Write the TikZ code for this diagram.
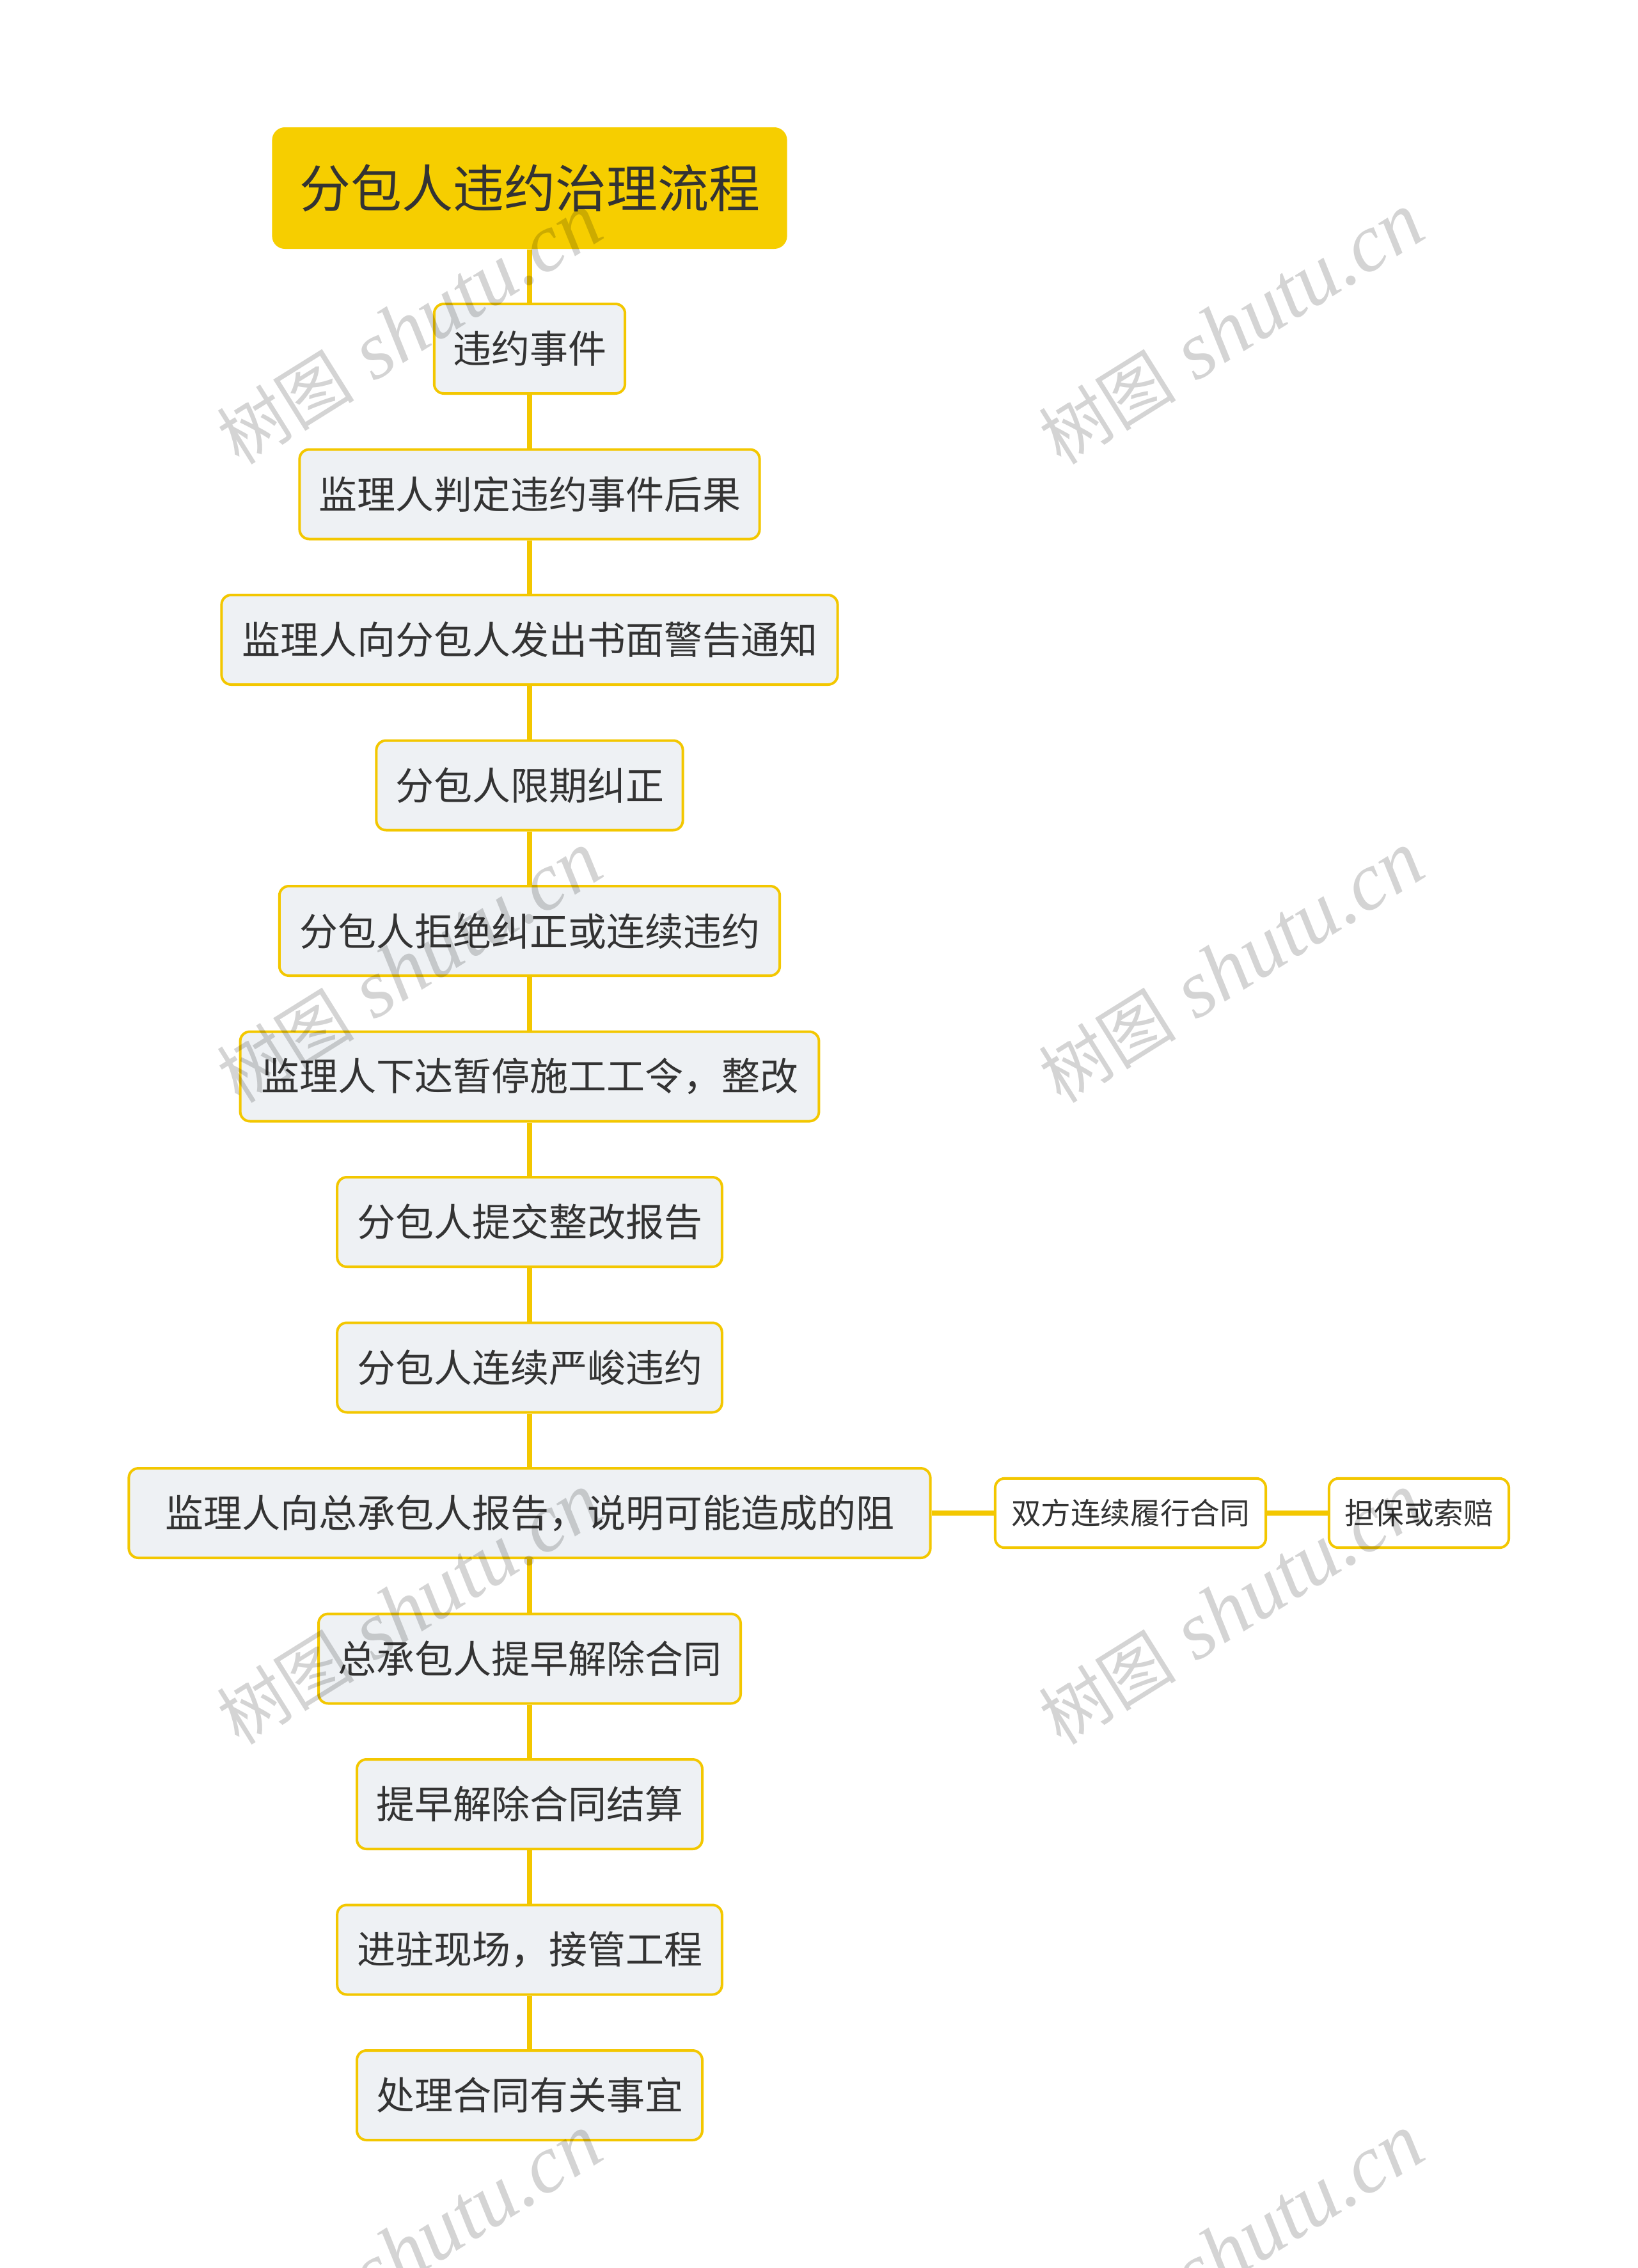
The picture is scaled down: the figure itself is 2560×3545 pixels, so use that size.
\documentclass[tikz,border=0pt]{standalone}
\usepackage{fontspec}
\setmainfont{Liberation Serif}
\newfontfamily\cjk{Noto Sans CJK SC}
\definecolor{ylw}{HTML}{F3C700}
\definecolor{rootfill}{HTML}{F6CE00}
\definecolor{boxfill}{HTML}{EEF1F4}
\definecolor{txt}{HTML}{333333}
\begin{document}
\begin{tikzpicture}[x=0.25pt,y=-0.25pt,
  box/.style={draw=ylw, line width=1pt, fill=boxfill, rounded corners=3.75pt,
    minimum height=35pt, inner xsep=0pt, inner ysep=0pt, align=center, text=txt,
    font=\cjk\fontsize{15}{18}\selectfont},
  rootbox/.style={fill=rootfill, rounded corners=5pt, minimum width=201.3pt,
    minimum height=47.5pt, inner sep=0pt, text=txt,
    font=\cjk\fontsize{20}{24}\selectfont},
  sidebox/.style={box, fill=white, minimum height=27.1pt,
    font=\cjk\fontsize{11.65}{14}\selectfont},
  link/.style={draw=ylw, line width=2.1pt},
  wm/.style={text=black, text opacity=0.17, rotate=32,
    font=\fontsize{32}{36}\selectfont}
]
\useasboundingbox[fill=white] (0,0) rectangle (2560,3545);

\node[rootbox] (root) at (828,294) {分包人违约治理流程};
\node[box, minimum width=74.6pt]  (n1)  at (828,545)   {违约事件};
\node[box, minimum width=179.8pt] (n2)  at (828,772.5) {监理人判定违约事件后果};
\node[box, minimum width=240.8pt] (n3)  at (828,1000)  {监理人向分包人发出书面警告通知};
\node[box, minimum width=119.8pt] (n4)  at (828,1227.5){分包人限期纠正};
\node[box, minimum width=195.6pt] (n5)  at (828,1455)  {分包人拒绝纠正或连续违约};
\node[box, minimum width=226.2pt] (n6)  at (828,1682.5){监理人下达暂停施工工令，整改};
\node[box, minimum width=150.4pt] (n7)  at (828,1910)  {分包人提交整改报告};
\node[box, minimum width=150.4pt] (n8)  at (828,2137.5){分包人连续严峻违约};
\node[box, minimum width=313.3pt] (n9)  at (828,2365)  {监理人向总承包人报告，说明可能造成的阻};
\node[box, minimum width=165pt]   (n10) at (828,2592.5){总承包人提早解除合同};
\node[box, minimum width=135pt]   (n11) at (828,2820)  {提早解除合同结算};
\node[box, minimum width=150.4pt] (n12) at (828,3047.5){进驻现场，接管工程};
\node[box, minimum width=135pt]   (n13) at (828,3275)  {处理合同有关事宜};

\node[sidebox, minimum width=105.8pt] (s1) at (1767.5,2365) {双方连续履行合同};
\node[sidebox, minimum width=70.3pt]  (s2) at (2218.5,2365) {担保或索赔};

\draw[link] (root.south) -- (n1.north);
\draw[link] (n1.south) -- (n2.north);
\draw[link] (n2.south) -- (n3.north);
\draw[link] (n3.south) -- (n4.north);
\draw[link] (n4.south) -- (n5.north);
\draw[link] (n5.south) -- (n6.north);
\draw[link] (n6.south) -- (n7.north);
\draw[link] (n7.south) -- (n8.north);
\draw[link] (n8.south) -- (n9.north);
\draw[link] (n9.south) -- (n10.north);
\draw[link] (n10.south) -- (n11.north);
\draw[link] (n11.south) -- (n12.north);
\draw[link] (n12.south) -- (n13.north);
\draw[link] (n9.east) -- (s1.west);
\draw[link] (s1.east) -- (s2.west);

\node[wm] (w1) at (640,514)  {{\cjk\fontsize{27}{30}\selectfont 树图} \textit{shutu.cn}};
\node[wm] (w2) at (1925,514) {{\cjk\fontsize{27}{30}\selectfont 树图} \textit{shutu.cn}};
\node[wm] (w3) at (640,1512) {{\cjk\fontsize{27}{30}\selectfont 树图} \textit{shutu.cn}};
\node[wm] (w4) at (1925,1512){{\cjk\fontsize{27}{30}\selectfont 树图} \textit{shutu.cn}};
\node[wm] (w5) at (640,2515) {{\cjk\fontsize{27}{30}\selectfont 树图} \textit{shutu.cn}};
\node[wm] (w6) at (1925,2515){{\cjk\fontsize{27}{30}\selectfont 树图} \textit{shutu.cn}};
\node[wm] (w7) at (640,3517) {{\cjk\fontsize{27}{30}\selectfont 树图} \textit{shutu.cn}};
\node[wm] (w8) at (1925,3517){{\cjk\fontsize{27}{30}\selectfont 树图} \textit{shutu.cn}};
\end{tikzpicture}
\end{document}
